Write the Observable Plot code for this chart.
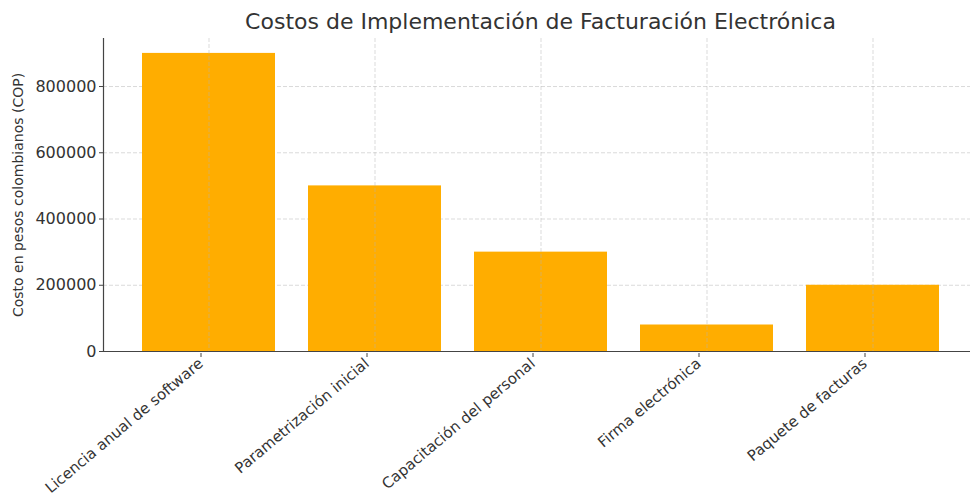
<!DOCTYPE html>
<html>
<head>
<meta charset="utf-8">
<script src="https://cdn.jsdelivr.net/npm/d3@7"></script>
<script src="https://cdn.jsdelivr.net/npm/@observablehq/plot@0.6"></script>
<style>
  html, body { margin: 0; padding: 0; background: white; }
  #wrap { width: 970px; height: 496px; overflow: hidden; position: relative; }
  #title { position: absolute; left: 103px; width: 875px; top: 9px; text-align: center;
           font-family: "DejaVu Sans", sans-serif; font-size: 22px; color: #333; line-height: 26px; }
  #chart { position: absolute; left: 0; top: 36px; }
</style>
</head>
<body>
<div id="wrap">
  <div id="title">Costos de Implementación de Facturación Electrónica</div>
  <div id="chart"></div>
</div>
<script>
const categories = [
  "Licencia anual de software",
  "Parametrización inicial",
  "Capacitación del personal",
  "Firma electrónica",
  "Paquete de facturas"
];
const costs = [900000, 500000, 300000, 80000, 200000];
const yTicks = [0, 200000, 400000, 600000, 800000];
const yLabel = "Costo en pesos colombianos (COP)";

const data = categories.map((c, i) => ({cat: c, cost: costs[i]}));
const gridStyle = {stroke: "#b0b0b0", strokeDasharray: "4,2", strokeOpacity: 0.6, strokeWidth: 0.8};

const chart = Plot.plot({
  width: 970,
  height: 460,
  marginTop: 2,
  marginBottom: 145,
  marginLeft: 103,
  marginRight: 0,
  style: {fontFamily: "DejaVu Sans, sans-serif", fontSize: "16px", background: "white", color: "#333"},
  x: {domain: categories, range: [103, 978], paddingInner: 0.2, paddingOuter: 0.2355},
  y: {domain: [0, 945000], range: [315, 2]},
  marks: [
    Plot.gridY(yTicks, gridStyle),
    Plot.barY(data, {x: "cat", y: "cost", fill: "#ffad00"}),
    Plot.gridX(categories, gridStyle),
    Plot.frame({anchor: "left", stroke: "#444", strokeWidth: 1.2}),
    Plot.frame({anchor: "bottom", stroke: "#444", strokeWidth: 1.2}),
    Plot.axisY(yTicks, {tickFormat: "d", tickSize: 4, tickPadding: 3, label: null, stroke: "#444"}),
    Plot.axisX({tickRotate: -40, tickSize: 4, tickPadding: 4, dx: -8, dy: 2, fontSize: 15, label: null, stroke: "#444"}),
    Plot.text([yLabel], {frameAnchor: "left", textAnchor: "middle", rotate: -90, dx: -85, fontSize: 14, fill: "#333"})
  ]
});
document.getElementById("chart").appendChild(chart);
</script>
</body>
</html>
